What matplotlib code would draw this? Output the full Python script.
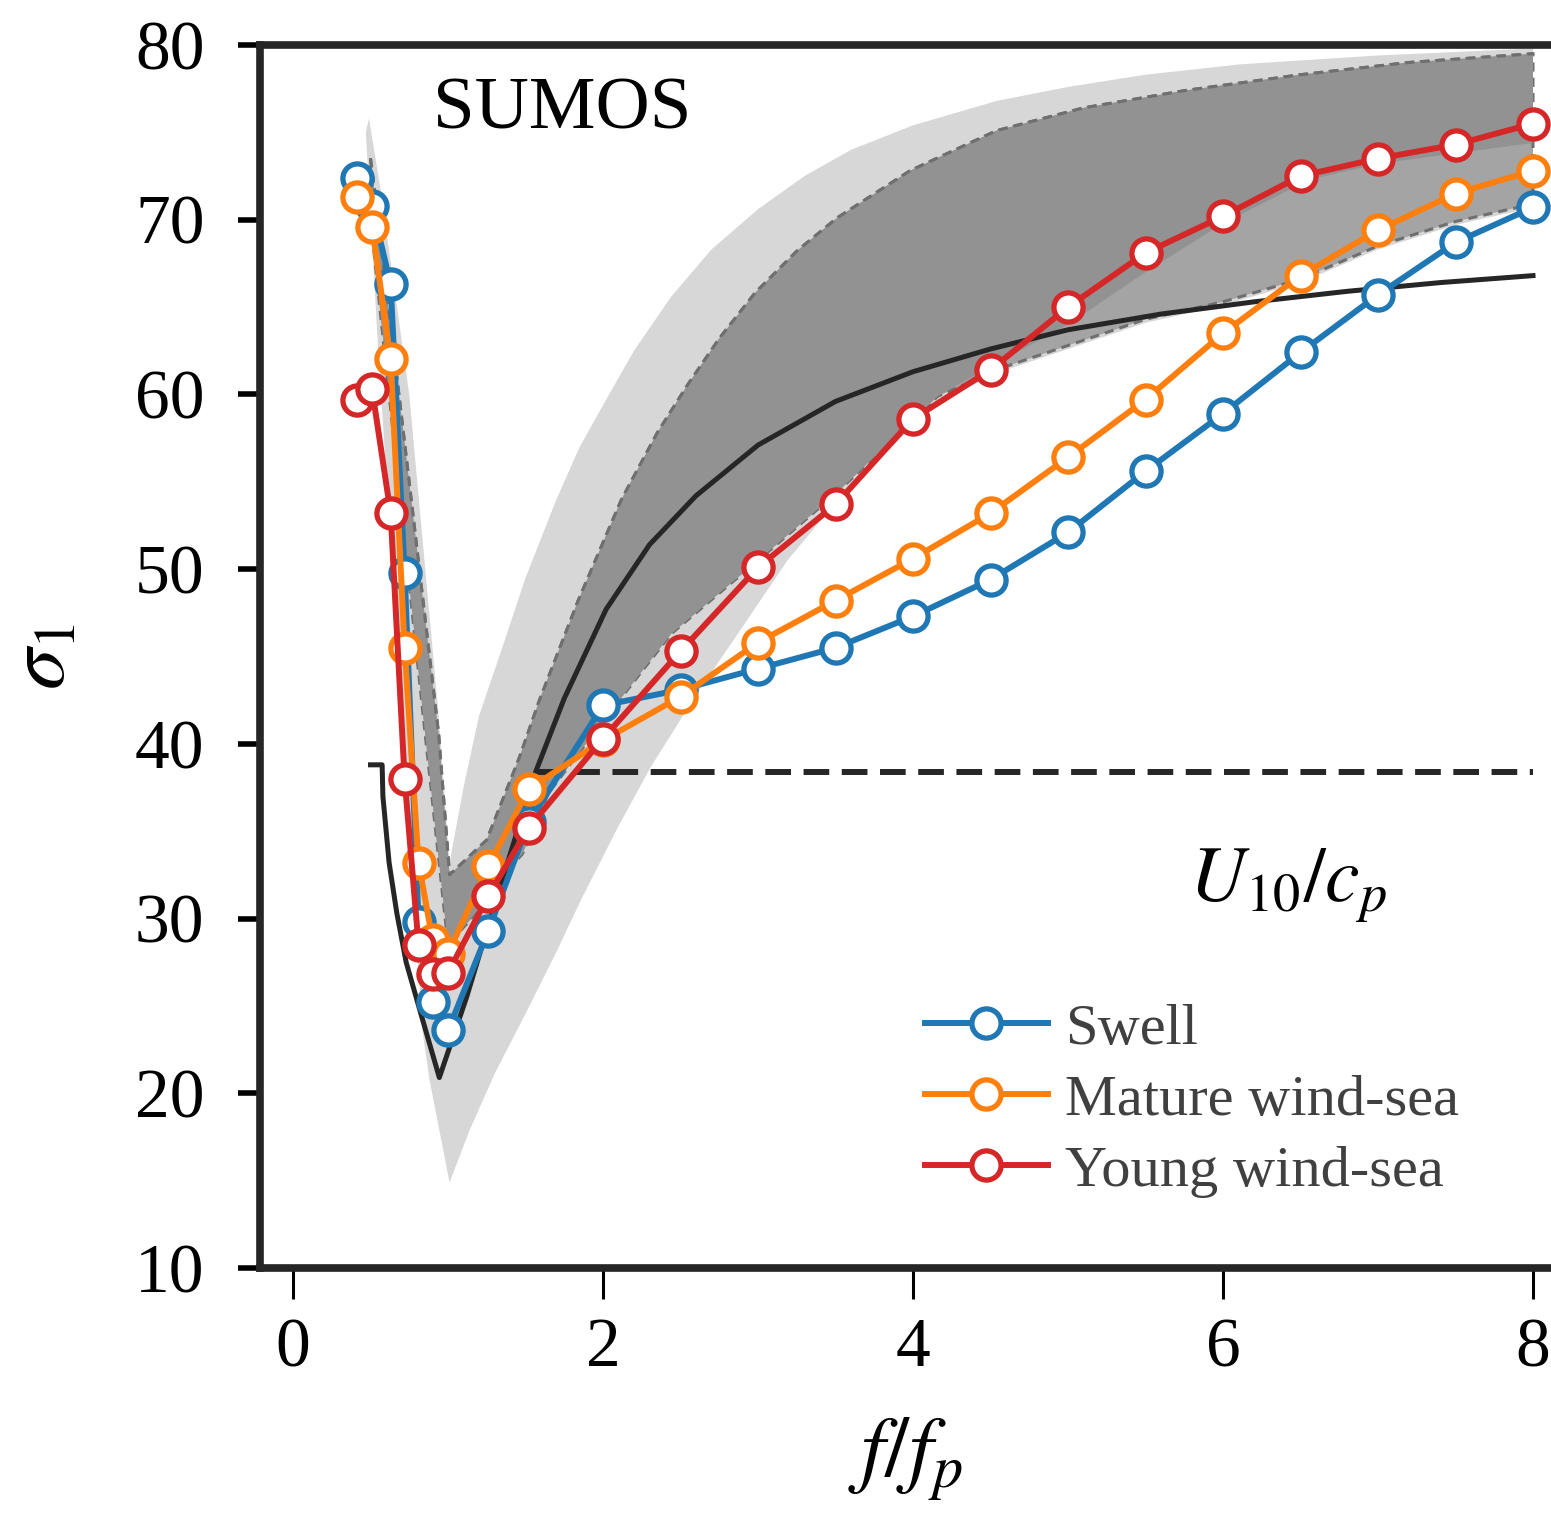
import matplotlib
matplotlib.use("Agg")
import matplotlib.pyplot as plt

plt.rcParams["font.family"] = ["Liberation Serif", "DejaVu Serif"]
plt.rcParams["mathtext.fontset"] = "stix"

# f/fp bins shared by the three SUMOS classes
f_ratio = [0.41, 0.51, 0.63, 0.72, 0.81, 0.90, 1.0, 1.26, 1.52, 2.0, 2.5, 3.0,
           3.5, 4.0, 4.5, 5.0, 5.5, 6.0, 6.5, 7.0, 7.5, 8.0]
swell = [72.4, 70.8, 66.3, 49.8, 29.8, 25.2, 23.6, 29.3, 35.5, 42.2, 43.1, 44.3,
         45.5, 47.3, 49.4, 52.1, 55.6, 58.9, 62.4, 65.7, 68.7, 70.7]
mature = [71.3, 69.6, 62.0, 45.5, 33.2, 28.8, 28.0, 33.0, 37.4, 40.2, 42.7, 45.8,
          48.2, 50.6, 53.2, 56.4, 59.7, 63.5, 66.8, 69.4, 71.5, 72.8]
young = [59.7, 60.3, 53.2, 38.0, 28.5, 26.8, 26.9, 31.3, 35.2, 40.3, 45.3, 50.1,
         53.7, 58.6, 61.4, 65.0, 68.1, 70.2, 72.5, 73.5, 74.3, 75.5]

# reference parameterisation (solid) and constant level (dashed)
model_x = [0.50, 0.575, 0.58, 0.62, 0.67, 0.73, 0.83, 0.944, 0.99, 1.12, 1.3,
           1.57, 1.75, 2.02, 2.3, 2.6, 3.0, 3.5, 4.0, 4.5, 5.0, 5.6, 6.2, 6.8,
           7.4, 8.0]
model_y = [38.8, 38.8, 37.0, 33.2, 30.3, 27.5, 24.4, 20.9, 22.1, 25.5, 30.8,
           38.5, 42.6, 47.7, 51.4, 54.2, 57.1, 59.6, 61.3, 62.6, 63.7, 64.6,
           65.3, 65.9, 66.4, 66.8]
const_x = [1.57, 8.0]
const_y = [38.4, 38.4]

# light grey envelope: lower edge then upper edge
env_lo_x = [0.47, 0.55, 0.65, 0.75, 0.835, 0.88, 1.01, 1.14, 1.3, 1.52, 1.7,
            1.86, 2.1, 2.31, 2.6, 2.87, 3.19, 3.5, 4.16, 4.6, 5.0, 5.5, 6.0,
            6.5, 7.0, 7.5, 8.0]
env_lo_y = [75.0, 62.5, 48.8, 35.2, 23.6, 20.8, 14.9, 17.9, 21.1, 24.9, 28.1,
            31.1, 35.3, 38.7, 42.8, 46.3, 50.5, 53.8, 59.6, 61.4, 62.6, 64.1,
            65.1, 66.4, 68.3, 69.7, 70.7]
env_hi_x = [0.49, 0.56, 0.75, 0.94, 1.01, 1.1, 1.2, 1.35, 1.5, 1.7, 1.85, 2.02,
            2.2, 2.44, 2.7, 3.0, 3.3, 3.6, 4.0, 4.54, 5.0, 5.5, 6.12, 7.0, 8.0]
env_hi_y = [75.8, 72.0, 60.0, 41.6, 33.2, 37.5, 41.6, 45.5, 49.5, 54.0, 57.0,
            59.7, 62.5, 65.6, 68.3, 70.6, 72.5, 74.0, 75.4, 76.8, 77.6, 78.3,
            78.9, 79.4, 79.8]

# dashed-edge band (lower edge, upper edge)
band_lo_x = [0.5, 0.62, 0.84, 1.0, 1.15, 1.33, 1.48, 1.65, 2.0, 2.44, 3.0, 3.5,
             4.16, 4.6, 5.0, 5.5, 6.0, 6.5, 7.0, 7.5, 8.0]
band_lo_y = [70.0, 60.0, 41.6, 28.5, 30.0, 32.2, 33.7, 37.2, 41.3, 46.3, 50.5,
             54.3, 59.9, 61.6, 62.8, 64.3, 65.3, 66.6, 68.5, 69.9, 70.9]
band_hi_x = [0.5, 0.69, 0.94, 1.01, 1.25, 1.46, 1.59, 1.84, 2.12, 2.35, 2.55,
             2.75, 2.98, 3.25, 3.51, 3.98, 4.54, 5.1, 5.76, 6.5, 7.2, 8.0]
band_hi_y = [73.5, 59.5, 40.5, 32.5, 34.5, 39.2, 42.5, 48.2, 54.0, 57.8, 60.6,
             63.2, 65.8, 68.2, 70.1, 72.8, 75.1, 76.4, 77.4, 78.3, 79.0, 79.5]

# lower edge of the darker overlap inside the band
core_lo_x = [0.5, 0.62, 0.84, 1.0, 1.15, 1.33, 1.48, 1.65, 2.0, 2.44, 3.0, 3.5,
             4.16, 4.5, 5.0, 5.5, 6.0, 6.56, 7.0, 7.5, 8.0]
core_lo_y = [70.0, 60.0, 41.6, 28.5, 30.0, 32.2, 33.7, 37.2, 41.3, 46.3, 50.5,
             54.3, 59.9, 61.6, 64.0, 67.0, 69.8, 72.3, 73.2, 73.8, 74.4]

BLUE, ORANGE, RED = "#1f77b4", "#ff7f0e", "#d62728"
INK = "#262626"


def outline(lo_x, lo_y, hi_x, hi_y):
    return list(lo_x) + list(hi_x)[::-1], list(lo_y) + list(hi_y)[::-1]


fig = plt.figure(figsize=(15.51, 15.13), dpi=100)
ax = fig.add_axes([260 / 1551, 245 / 1513, 1291 / 1551, 1223 / 1513])

px, py = outline(env_lo_x, env_lo_y, env_hi_x, env_hi_y)
ax.fill(px, py, color="#d7d7d7", lw=0, zorder=1)
px, py = outline(band_lo_x, band_lo_y, band_hi_x, band_hi_y)
ax.fill(px, py, facecolor="#a4a4a4", edgecolor="#6f6f6f", lw=2.2,
        linestyle=(0, (3, 2)), zorder=2)
px, py = outline(core_lo_x, core_lo_y, band_hi_x, band_hi_y)
ax.fill(px, py, color="#929292", lw=0, zorder=2.5)
ax.plot(band_hi_x, band_hi_y, color="#6f6f6f", lw=2.2, dashes=(3, 2), zorder=2.6)

ax.plot(model_x, model_y, color=INK, lw=3.6, zorder=3)
ax.plot(const_x, const_y, color=INK, lw=4.3, dashes=(4.3, 2.1), zorder=3)

mk = dict(marker="o", ms=21, mfc="white", mew=3.8, lw=4.3, zorder=4)
ax.plot(f_ratio, swell, color=BLUE, label="Swell", **mk)
ax.plot(f_ratio, mature, color=ORANGE, label="Mature wind-sea", **mk)
ax.plot(f_ratio, young, color=RED, label="Young wind-sea", **mk)

ax.set_xlim((260 - 293) / 155, (1551 - 293) / 155)
ax.set_ylim(10, 80)
ax.set_xticks([0, 2, 4, 6, 8])
ax.set_yticks([10, 20, 30, 40, 50, 60, 70, 80])
ax.tick_params(axis="x", direction="out", length=22, width=2.2, pad=14,
               labelsize=50, color="black")
ax.tick_params(axis="y", direction="out", length=16, width=4, pad=24,
               labelsize=50, color="black")
for s in ("left", "bottom", "top"):
    ax.spines[s].set_linewidth(5.5)
    ax.spines[s].set_color(INK)
ax.spines["right"].set_visible(False)

ax.set_xlabel(r"$f/f_p$", fontsize=62, labelpad=24)
ax.set_ylabel(r"$\sigma_1$", fontsize=60, labelpad=38)
ax.text(0.90, 75.2, "SUMOS", fontsize=54, ha="left", va="baseline", zorder=5)
ax.text(5.78, 31.0, r"$U_{10}/c_p$", fontsize=56, ha="left", va="baseline",
        zorder=5)

ax.legend(loc="upper left", bbox_to_anchor=(925 / 1551, 1 - 1003 / 1513),
          bbox_transform=fig.transFigure, frameon=False, fontsize=42,
          handlelength=2.1, handletextpad=0.3, labelspacing=0.31,
          borderpad=0, borderaxespad=0, labelcolor="#404040")

fig.savefig("out.png", dpi=100)
